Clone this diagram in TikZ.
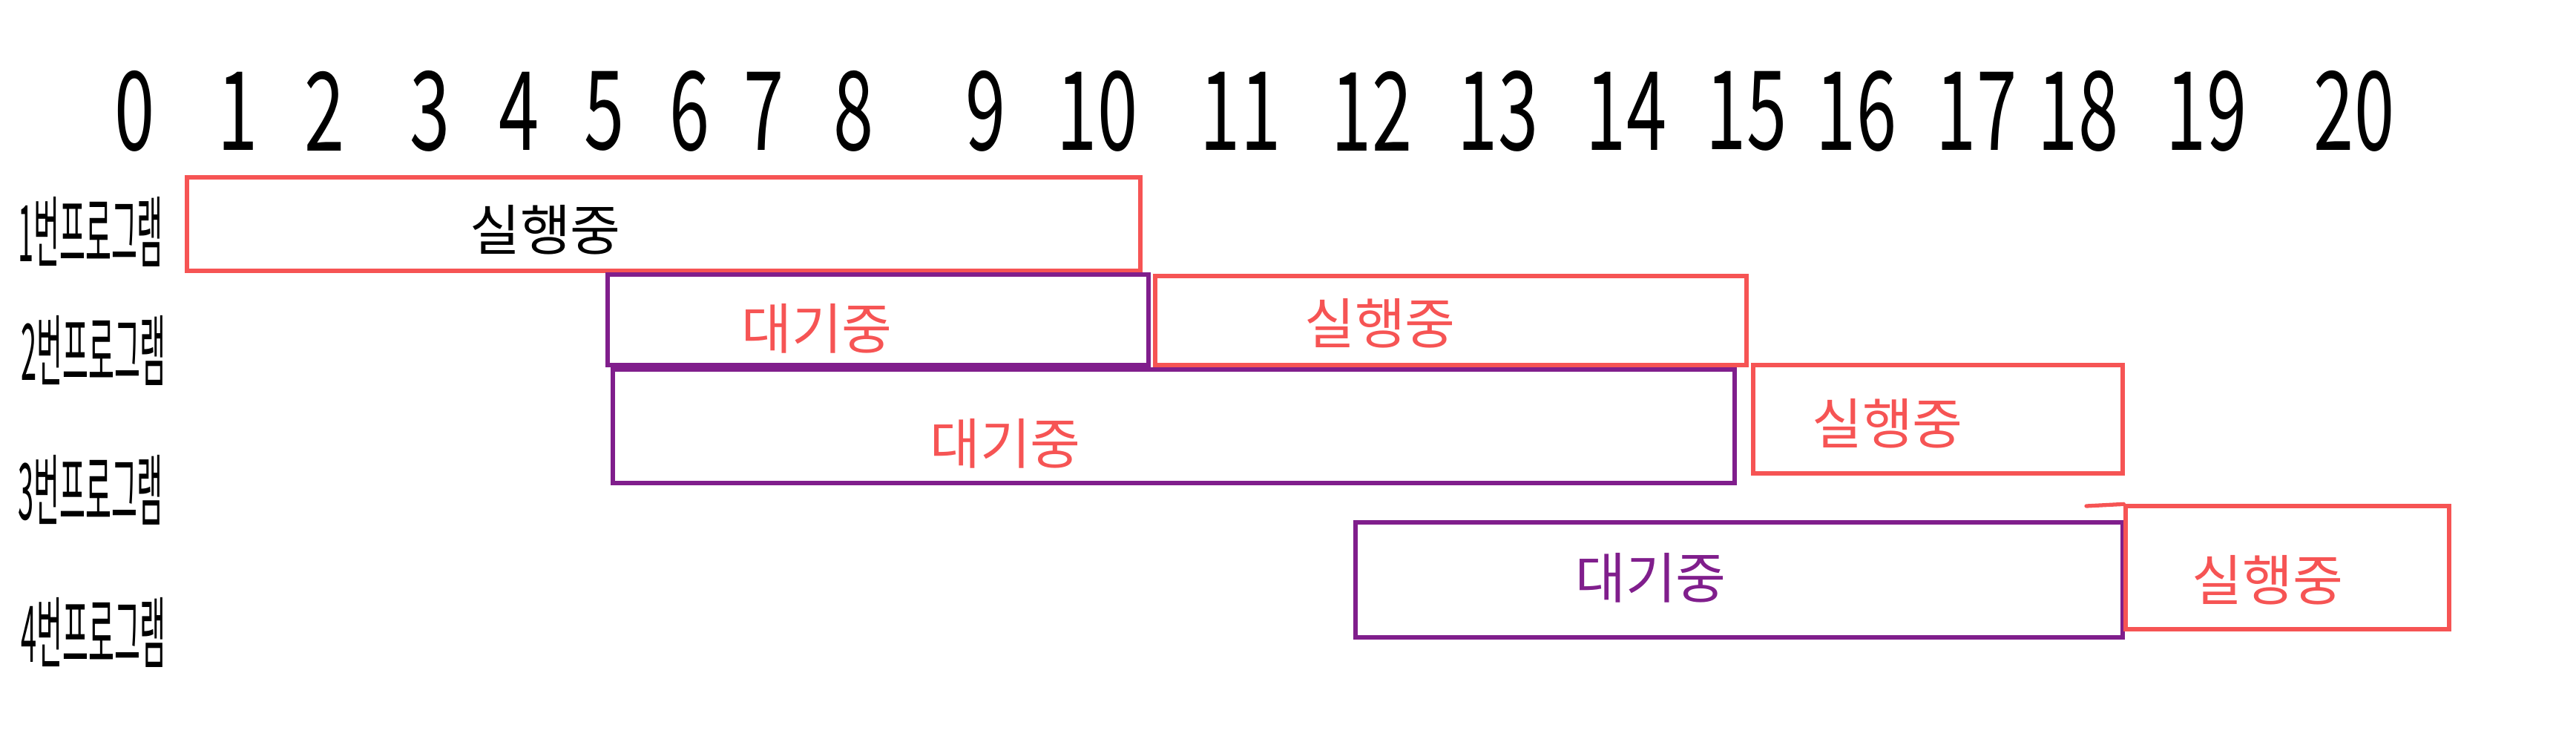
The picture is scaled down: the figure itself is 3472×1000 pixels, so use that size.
\documentclass[tikz,border=0pt]{standalone}
\usepackage{fontspec}
\setmainfont{Noto Sans CJK KR}
\usetikzlibrary{fit}
\definecolor{penred}{RGB}{246,84,84}
\definecolor{penpurple}{RGB}{128,30,140}
\tikzset{
  redbox/.style={draw=penred, line width=1.5pt, inner sep=0pt, fit={#1}},
  purplebox/.style={draw=penpurple, line width=1.5pt, inner sep=0pt, fit={#1}},
  tick/.style={font=\fontsize{42}{46}\selectfont, xscale=0.66, inner sep=0pt},
  rowlabel/.style={font=\fontsize{30}{34}\selectfont, xscale=0.36, inner sep=0pt},
  state/.style={font=\fontsize{21}{25}\selectfont, inner sep=0pt}
}
\begin{document}
\begin{tikzpicture}[x=0.01cm,y=-0.01cm]
\useasboundingbox (0,0) rectangle (3472,1000);
% time axis
\foreach \n/\x in {0/182,1/321,2/438,3/580,4/700,5/815,6/930,7/1030,8/1151,9/1329,10/1479,11/1672,12/1849,13/2019,14/2192,15/2354,16/2502,17/2664,18/2801,19/2974,20/3173}
  \node[tick] (t\n) at (\x,150) {\n};
% row labels
\node[rowlabel] (p1) at (122,312) {1번프로그램};
\node[rowlabel] (p2) at (126,472) {2번프로그램};
\node[rowlabel] (p3) at (122,660) {3번프로그램};
\node[rowlabel] (p4) at (126,852) {4번프로그램};
% bars
\node[redbox={(252,239)(1537,365)}] (b1) {};
\node[purplebox={(819,370)(1548,492)}] (b2) {};
\node[redbox={(1557,372)(2354,492)}] (b3) {};
\node[purplebox={(826,498)(2338,651)}] (b4) {};
\node[redbox={(2363,492)(2861,638)}] (b5) {};
\node[purplebox={(1827,704)(2861,859)}] (b6) {};
\node[redbox={(2865,682)(3301,848)}] (b7) {};
\coordinate (b7ext) at (2812,682);
\draw[penred, line width=1.5pt, line cap=round] (b7ext) -- (b7.north west);
% states
\node[state, text=black] (s1) at (735,310) {실행중};
\node[state, text=penred] (s2) at (1101,443) {대기중};
\node[state, text=penred] (s3) at (1860,436) {실행중};
\node[state, text=penred] (s4) at (1355,598) {대기중};
\node[state, text=penred] (s5) at (2544,571) {실행중};
\node[state, text=penpurple] (s6) at (2225,779) {대기중};
\node[state, text=penred] (s7) at (3056,782) {실행중};
\end{tikzpicture}
\end{document}
